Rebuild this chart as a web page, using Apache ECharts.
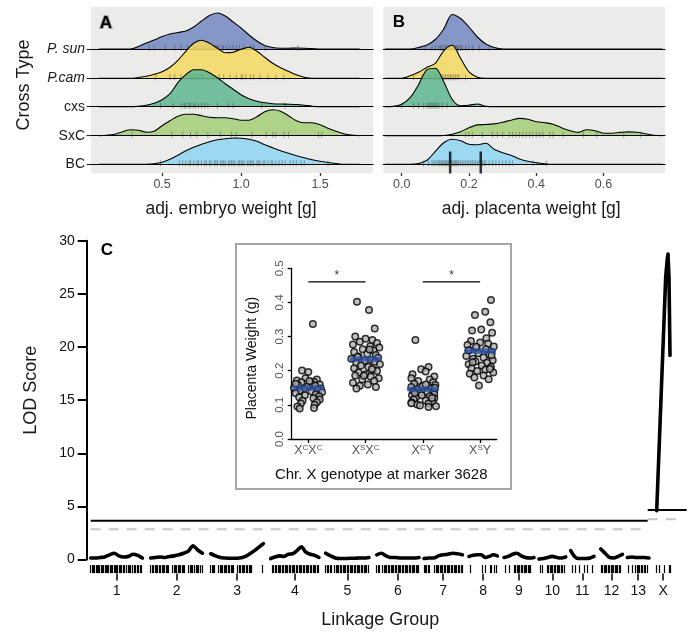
<!DOCTYPE html>
<html><head><meta charset="utf-8">
<script src="https://cdn.jsdelivr.net/npm/echarts@6/dist/echarts.min.js"></script>
<style>html,body{margin:0;padding:0;background:#fff}#c{width:689px;height:633px}</style>
</head><body><div id="c"></div>
<script>
// ---------------- DATA ----------------
const crossTypes = ['P. sun', 'P.cam', 'cxs', 'SxC', 'BC'];

// Panel A: embryo weight densities (ridge heights), sampled on embryoX
const embryoX = [0.10,0.15,0.20,0.25,0.30,0.35,0.40,0.45,0.50,0.55,0.60,0.65,0.70,0.75,0.80,0.85,0.90,0.95,1.00,1.05,1.10,1.15,1.20,1.25,1.30,1.35,1.40,1.45,1.50,1.55,1.60,1.65,1.70,1.75];
const embryoPsun = [0,0,0,0,0,2.5,6,9,12.5,15,16.5,18,22,28,33.5,36,33,27,21,14,8,3.5,1.5,0.8,0.7,1,0.8,0.4,0,0,0,0,0,0];
const embryoPcam = [0,0,0,0,0,0.8,2,4,6.5,11,18,27,35,38,35,30,25.5,26,29,31,27,21,15,10.5,7,3.5,1,0,0,0,0,0,0,0];
const embryoCxs  = [0,0,0,0,0,0.5,1.5,3.5,7,13,24,32,37,37,34,29,23,17.5,12,8,5.5,4,3,2.7,2.5,2.2,1.5,0.5,0,0,0,0,0,0];
const embryoSxC  = [0,0.5,1.5,4,6,5.5,3.5,4.5,10,15,19.5,21.5,21.5,20,18.5,18,18,17,15.5,15.5,19,24,26,24.5,20,15,13,13,11,7.5,4.5,2,0.7,0];
const embryoBC   = [0,0,0,0,0,0,0,0.5,2,5,9,13.5,17,20,22.5,24.5,25.5,26.3,26,25,23,19.5,16.5,13.5,11,8.5,6.5,4.5,3,1.8,0.8,0,0,0];

const embryoRugPsun = [0.42,0.45,0.52,0.58,0.62,0.66,0.70,0.72,0.74,0.76,0.78,0.79,0.81,0.82,0.84,0.85,0.86,0.88,0.89,0.91,0.93,0.95,0.97,0.99,1.02,1.06,1.08,1.15,1.36];
const embryoRugPcam = [0.46,0.55,0.58,0.62,0.66,0.68,0.69,0.70,0.71,0.72,0.73,0.74,0.75,0.76,0.77,0.79,0.82,0.86,0.89,0.93,0.97,1.0,1.01,1.03,1.06,1.08,1.12,1.17,1.22,1.27];
const embryoRugCxs  = [0.49,0.57,0.62,0.64,0.65,0.67,0.68,0.70,0.71,0.73,0.75,0.77,0.79,0.85,0.92,0.95,1.13,1.28];
const embryoRugSxC  = [0.31,0.56,0.63,0.68,0.72,0.79,0.87,0.94,0.97,1.07,1.16,1.20,1.22,1.27,1.30,1.49,1.51];
const embryoRugBC   = [0.49,0.61,0.63,0.65,0.67,0.68,0.70,0.72,0.73,0.75,0.77,0.78,0.80,0.81,0.83,0.84,0.85,0.87,0.88,0.89,0.90,0.92,0.93,0.94,0.95,0.96,0.98,0.99,1.00,1.01,1.02,1.04,1.05,1.06,1.07,1.08,1.10,1.11,1.12,1.14,1.15,1.17,1.19,1.20,1.22,1.24,1.26,1.28,1.31,1.33,1.35,1.38,1.40,1.55];
const embryoTicks = [0.5, 1.0, 1.5];

// Panel B: placenta weight densities
const placentaX = [-0.05,-0.025,0,0.025,0.05,0.075,0.1,0.125,0.15,0.175,0.2,0.225,0.25,0.275,0.3,0.325,0.35,0.375,0.4,0.425,0.45,0.475,0.5,0.525,0.55,0.575,0.6,0.625,0.65,0.675,0.7,0.725,0.75,0.775];
const placentaPsun = [0,0,0,0,1.5,4,9.5,20,34.5,30.5,22,12,5,1.5,0,0,0,0,0,0,0,0,0,0,0,0,0,0,0,0,0,0,0,0];
const placentaPcam = [0,0,0,2.5,6,11,15,27.5,33,20,6.5,1,0,0,0,0,0,0,0,0,0,0,0,0,0,0,0,0,0,0,0,0,0,0];
const placentaCxs  = [0,0.3,2.5,9,22,37,38.5,25,7.5,1,1.5,2.7,0.5,0,0,0,0,0,0,0,0,0,0,0,0,0,0,0,0,0,0,0,0,0];
const placentaSxC  = [0,0,0,0,0,0,0,0.2,1.5,4,8,10.8,11.2,11.8,13.5,15.5,17.3,16.5,14,13,11.5,8,5,3.3,6,5,2.5,2.5,3.3,3.8,3.5,2,0.5,0];
const placentaBC   = [0,0,0,0,0.8,4,13,21.5,25,23.5,20,19.5,21,15,11.5,9,5.3,3,1.7,0.5,0,0,0,0,0,0,0,0,0,0,0,0,0,0];

const placentaRugPsun = [0.07,0.09,0.10,0.11,0.115,0.12,0.125,0.13,0.135,0.14,0.145,0.15,0.152,0.155,0.16,0.163,0.167,0.17,0.175,0.18,0.19,0.20,0.21,0.23,0.26];
const placentaRugPcam = [0.035,0.06,0.07,0.08,0.09,0.10,0.105,0.11,0.115,0.12,0.125,0.13,0.135,0.14,0.145,0.15,0.155,0.16,0.165,0.17,0.19];
const placentaRugCxs  = [0.0,0.035,0.05,0.065,0.075,0.08,0.085,0.09,0.095,0.10,0.105,0.11,0.12,0.135];
const placentaRugSxC  = [0.19,0.20,0.21,0.24,0.27,0.285,0.30,0.32,0.33,0.34,0.35,0.36,0.37,0.38,0.39,0.40,0.41,0.42,0.44,0.45,0.48,0.54,0.58,0.66,0.71];
const placentaRugBC   = [0.065,0.08,0.09,0.095,0.10,0.105,0.11,0.113,0.117,0.12,0.123,0.127,0.13,0.133,0.137,0.14,0.143,0.147,0.15,0.153,0.157,0.16,0.163,0.167,0.17,0.175,0.18,0.185,0.19,0.195,0.20,0.205,0.21,0.215,0.22,0.225,0.23,0.235,0.24,0.245,0.25,0.26,0.27,0.28,0.29,0.30,0.31,0.32,0.33,0.39,0.43];
const placentaBCGenotypeMeans = [0.144, 0.235];
const placentaTicks = [0.0, 0.2, 0.4, 0.6];

// Panel C: LOD profiles per linkage group
const lgNames = ['1','2','3','4','5','6','7','8','9','10','11','12','13','X'];
const lgStart = [4,64,124,184,239,290,337.3,382.3,417.3,452.3,484,514,540.7,569];
const lgEnd   = [55.7,115.7,176.7,232.3,282.3,332.3,375.7,410.7,447.3,479,507.3,535.7,562.3,584];
const lodLG1  = [0.15,0.15,0.2,0.25,0.45,0.6,0.35,0.25,0.3,0.5,0.4,0.15];
const lodLG2  = [0.15,0.2,0.25,0.2,0.3,0.35,0.45,0.6,0.8,1.3,0.9,0.6];
const lodLG3  = [0.55,0.35,0.2,0.15,0.12,0.12,0.15,0.25,0.5,0.8,1.15,1.5];
const lodLG4  = [0.1,0.25,0.35,0.3,0.5,0.55,0.85,1.2,0.7,0.5,0.4,0.2];
const lodLG5  = [0.6,0.35,0.15,0.1,0.1,0.12,0.12,0.15,0.15,0.2];
const lodLG6  = [0.45,0.6,0.35,0.2,0.2,0.15,0.15,0.15,0.15,0.2];
const lodLG7  = [0.1,0.15,0.15,0.35,0.45,0.5,0.6,0.55,0.45];
const lodLG8  = [0.3,0.4,0.45,0.45,0.2,0.3,0.45,0.35];
const lodLG9  = [0.2,0.3,0.5,0.6,0.35,0.2,0.15,0.2];
const lodLG10 = [0.05,0.1,0.2,0.3,0.2,0.15,0.25];
const lodLG11 = [0.85,0.3,0.1,0.1,0.1,0.15,0.3];
const lodLG12 = [1.0,0.6,0.2,0.15,0.3,0.5];
const lodLG13 = [0.2,0.25,0.2,0.2,0.2,0.15];
const posX = [570,574,577,579,580.5,581.3,582.3,583.3];
const lodX = [4.6,14.4,21.7,26.6,28.2,28.75,26.5,19.2];
const autosomeLods = [lodLG1,lodLG2,lodLG3,lodLG4,lodLG5,lodLG6,lodLG7,lodLG8,lodLG9,lodLG10,lodLG11,lodLG12,lodLG13];
const markerPos = [
 4,5.5,7,8,9.5,11,12,13,14.5,16,17,18.5,20,21,22,24,25,26,27.5,29,30,31,32.5,34,35,36.5,38,40,41.5,43,44,46,47.5,49,50.5,52,53.5,55,
 64,65.5,67,68.5,70,71,72.5,74,75.5,77,78,79.5,81,82,86,87.5,89,90,91.5,93,94,95.5,97,98,102,103.5,105,106,108,109.5,111,112,114,115.5,
 124,125.5,127,128,132,133.5,135,136,137.5,139,140,141.5,143,144.5,146,147,151,152.5,154,155.5,157,158,159.5,161,162.5,164,165,175.7,
 185.7,187,188.5,190,191.5,193,194,195.5,197,198.5,200,201,202.5,204,205.5,207,208,209.5,211,212.5,214,215,216.5,218,219.5,221,222,223.5,225,226.5,228,229,230.5,232,
 239,240.5,242,243.5,245,248,249.5,251,252,253.5,255,256.5,258,259,260.5,262,263.5,265,266,267.5,269,270.5,272,273,274.5,276,277.5,279,280,281.5,
 290,291.5,293,296,297.5,299,300,301.5,303,304.5,306,307,308.5,310,311.5,313,314,315.5,317,318.5,320,321,322.5,324,325.5,327,328,329.5,331,332,
 337.3,338.5,340,341.5,343,348,349.5,351,352,353.5,355,356,357.5,359,360.5,362,363,364.5,366,367.5,369,370,371.5,373,374.5,375.7,
 384,395.7,399,404,405,407.3,410,
 419,422.3,427.3,429,430.5,432,433,434.5,436,437.5,439,440,441.5,443,444,
 453.3,455.7,460.7,462,463.5,465,466,467.5,469,470.5,472,473,474.5,476,477.3,
 485.7,489,492.3,497.3,500.7,505.7,
 514.7,516,517.5,519,520,521.5,523,524.5,526,527,528.5,530,531,532.5,534,
 541.3,545.7,549,550.5,552,553,554.5,556,557.5,559,560.7,
 569.7,572.3,577.3,582.3,584];
const thresholdAuto = 3.66, permAuto = 2.85, thresholdX = 4.67, permX = 3.79;
const autoSpan = [4, 561], xSpanSolid = [561, 600], xSpanDash = [561, 594];
const lodTicks = [0, 5, 10, 15, 20, 25, 30];

// Inset: placenta weight by X genotype
const genotypeLabels = ['X{s|C}X{s|C}', 'X{s|S}X{s|C}', 'X{s|C}Y', 'X{s|S}Y'];
const g1Weight = [0.337,0.201,0.196,0.178,0.174,0.171,0.168,0.166,0.163,0.160,0.158,0.156,0.153,0.150,0.148,0.146,0.144,0.141,0.139,0.137,0.134,0.131,0.128,0.125,0.122,0.119,0.116,0.112,0.108,0.104,0.100,0.095,0.091,0.089,0.162,0.170];
const g1Jitter = [0.08,-0.11,0.0,-0.05,0.15,-0.2,0.1,-0.12,0.05,0.2,-0.18,0.12,-0.02,-0.25,0.22,-0.08,0.17,-0.15,0.06,0.24,-0.22,0.13,-0.06,0.19,-0.16,0.09,0.2,-0.1,0.15,-0.13,0.11,-0.19,0.1,-0.15,-0.22,0.02];
const g2Weight = [0.402,0.378,0.324,0.300,0.294,0.290,0.285,0.281,0.277,0.272,0.268,0.263,0.259,0.255,0.250,0.246,0.242,0.238,0.235,0.232,0.229,0.226,0.222,0.219,0.215,0.211,0.207,0.203,0.199,0.195,0.190,0.186,0.182,0.178,0.174,0.170,0.165,0.160,0.156,0.152,0.148,0.262,0.240,0.205,0.185];
const g2Jitter = [-0.15,0.06,0.16,-0.18,0.0,0.12,-0.1,0.2,-0.22,0.08,0.24,-0.05,0.14,-0.2,0.03,0.18,-0.12,0.22,-0.25,0.1,-0.02,0.16,-0.16,0.25,-0.08,0.05,-0.2,0.13,0.2,-0.12,0.0,-0.18,0.09,0.23,-0.06,0.15,-0.22,0.04,-0.1,0.18,-0.16,0.07,-0.14,0.11,-0.03];
const g3Weight = [0.290,0.211,0.204,0.198,0.190,0.183,0.178,0.174,0.170,0.166,0.162,0.158,0.155,0.152,0.149,0.146,0.143,0.140,0.137,0.134,0.131,0.128,0.125,0.122,0.119,0.116,0.113,0.110,0.107,0.104,0.101,0.098,0.096,0.094,0.160,0.135,0.120,0.105,0.150,0.128];
const g3Jitter = [-0.13,0.1,-0.03,0.05,-0.18,0.2,-0.2,0.12,-0.08,0.18,-0.15,0.22,0.0,-0.2,0.15,-0.1,0.2,-0.17,0.08,-0.05,0.2,-0.19,0.12,-0.12,0.2,-0.16,0.05,0.17,-0.2,0.1,-0.1,-0.05,0.23,0.1,0.05,-0.14,0.16,-0.2,0.21,-0.02];
const g4Weight = [0.407,0.373,0.363,0.342,0.321,0.318,0.311,0.295,0.287,0.283,0.279,0.275,0.271,0.267,0.263,0.259,0.255,0.251,0.247,0.243,0.239,0.235,0.231,0.227,0.223,0.219,0.215,0.211,0.207,0.203,0.199,0.195,0.191,0.186,0.180,0.175,0.157,0.260,0.245,0.225,0.205,0.270];
const g4Jitter = [0.19,0.09,-0.09,0.18,0.02,-0.14,0.21,0.11,-0.16,0.0,0.14,-0.22,0.24,-0.06,0.1,-0.19,0.2,-0.03,0.16,-0.24,0.06,-0.12,0.22,-0.08,0.12,-0.2,0.03,0.19,-0.15,0.09,-0.05,0.23,-0.18,0.06,-0.1,0.15,-0.02,-0.2,0.2,-0.13,0.17,-0.07];
const genotypeMeans = [0.1496, 0.234, 0.146, 0.258];
const sigPairs = [[0, 1], [2, 3]];
const sigLevel = 0.46;

// ---------------- STYLE / LAYOUT ----------------
const FONT = '"Liberation Sans", Arial, Helvetica, sans-serif';
const ridgeColors = ['#7388c0', '#f3d95e', '#5db68f', '#a3cf77', '#8fd5f2'];
const ridgeBase = [49, 78.3, 106.7, 135.7, 164.3];
const panelA = {left: 91, width: 282, min: 0.05, max: 1.835};
const panelB = {left: 383.3, width: 281.7, min: -0.0547, max: 0.7827};
const insetBox = {x: 236, y: 244, w: 275, h: 245};

const embryoDens = [embryoPsun, embryoPcam, embryoCxs, embryoSxC, embryoBC];
const embryoRugs = [embryoRugPsun, embryoRugPcam, embryoRugCxs, embryoRugSxC, embryoRugBC];
const placentaDens = [placentaPsun, placentaPcam, placentaCxs, placentaSxC, placentaBC];
const placentaRugs = [placentaRugPsun, placentaRugPcam, placentaRugCxs, placentaRugSxC, placentaRugBC];

const grids = [], xAxes = [], yAxes = [], series = [];
const noAxis = {axisLine:{show:false}, axisTick:{show:false}, axisLabel:{show:false}, splitLine:{show:false}};

// Panel backgrounds + bottom axes
function panelBg(p, ticks, title, titlePad) {
  const gi = grids.length;
  grids.push({left: p.left, top: 7, width: p.width, height: 166, show: true, backgroundColor: '#ebebea', borderWidth: 0, outerBoundsMode: 'none'});
  xAxes.push({gridIndex: gi, type: 'value', min: p.min, max: p.max,
    axisLine: {show: false, onZero: false}, splitLine: {show: false},
    axisTick: {show: true, customValues: ticks, length: 3, lineStyle: {color: '#333', width: 1.3}},
    axisLabel: {show: true, customValues: ticks, formatter: v => Number(v).toFixed(1), color: '#4d4d4d', fontSize: 12.5, margin: 5, fontFamily: FONT},
    name: title, nameLocation: 'middle', nameGap: 27,
    nameTextStyle: {fontSize: 17.5, color: '#1a1a1a', fontFamily: FONT, padding: titlePad}});
  yAxes.push(Object.assign({gridIndex: gi, type: 'value', min: 0, max: 1}, noAxis));
}
panelBg(panelA, embryoTicks, 'adj. embryo weight [g]', [0, 2, 0, 0]);
panelBg(panelB, placentaTicks, 'adj. placenta weight [g]', [0, 0, 0, 14]);

function ridges(p, xs, dens, rugs, showLabels) {
  for (let i = 0; i < 5; i++) {
    const gi = grids.length;
    grids.push({left: p.left, width: p.width, top: ridgeBase[i] - 45, height: 54, outerBoundsMode: 'none'});
    xAxes.push({gridIndex: gi, type: 'value', min: p.min, max: p.max, z: 11 + 2 * i,
      axisLine: {show: true, onZero: true, lineStyle: {color: '#000', width: 1.1}},
      axisTick: {show: false}, axisLabel: {show: false}, splitLine: {show: false}});
    const y = {gridIndex: gi, type: 'value', min: -9, max: 45, axisLine: {show: false}, splitLine: {show: false}};
    if (showLabels) {
      y.axisTick = {show: true, customValues: [0], length: 4.5, lineStyle: {color: '#333', width: 1.2}};
      y.axisLabel = {show: true, customValues: [0], formatter: () => crossTypes[i], margin: 6,
        fontSize: 14, color: '#1a1a1a', fontStyle: i < 2 ? 'italic' : 'normal', fontFamily: FONT};
    } else {
      y.axisTick = {show: false}; y.axisLabel = {show: false};
    }
    yAxes.push(y);
    series.push({type: 'line', xAxisIndex: gi, yAxisIndex: gi, z: 10 + 2 * i, silent: true,
      data: xs.map((x, k) => [x, dens[i][k]]), smooth: 0.3, symbol: 'none',
      lineStyle: {color: '#000', width: 1.1}, areaStyle: {color: ridgeColors[i], opacity: 0.85}});
    series.push({type: 'scatter', xAxisIndex: gi, yAxisIndex: gi, z: 11 + 2 * i, silent: true,
      data: rugs[i].map(v => [v, 1]), symbol: 'rect', symbolSize: [1, 6],
      itemStyle: {color: 'rgba(30,30,30,0.45)'}});
  }
}
ridges(panelA, embryoX, embryoDens, embryoRugs, true);
ridges(panelB, placentaX, placentaDens, placentaRugs, false);
// BC genotype mean marks in panel B (last B ridge grid = 11)
series.push({type: 'scatter', xAxisIndex: 11, yAxisIndex: 11, z: 40, silent: true,
  data: placentaBCGenotypeMeans.map(v => [v, 1.8]), symbol: 'rect', symbolSize: [2.5, 22],
  itemStyle: {color: '#000'}});

// Panel C
const lgMid = lgStart.map((s, k) => (s + lgEnd[k]) / 2);
const gC = grids.length;
grids.push({left: 86.7, top: 240.7, width: 600, height: 318.9, outerBoundsMode: 'none'});
xAxes.push({gridIndex: gC, type: 'value', min: 0, max: 600, position: 'bottom', offset: 5.5,
  axisLine: {show: false, onZero: false}, splitLine: {show: false}, axisLabel: {show: false},
  axisTick: {show: true, customValues: markerPos, length: 8, lineStyle: {color: '#000', width: 1.2}}});
const xCIdx = xAxes.length;
xAxes.push({gridIndex: gC, type: 'value', min: 0, max: 600, position: 'bottom', offset: 14,
  axisLine: {show: false, onZero: false}, splitLine: {show: false},
  axisTick: {show: true, customValues: lgMid, length: 7, lineStyle: {color: '#000', width: 1.5}},
  axisLabel: {show: true, customValues: lgMid, margin: 11, fontSize: 14, color: '#111', fontFamily: FONT,
    formatter: v => { let b = 0; lgMid.forEach((m, k) => { if (Math.abs(m - v) < Math.abs(lgMid[b] - v)) b = k; }); return lgNames[b]; }},
  name: 'Linkage Group', nameLocation: 'middle', nameGap: 37,
  nameTextStyle: {fontSize: 18, color: '#1a1a1a', fontFamily: FONT, padding: [0, 13, 0, 0]}});
yAxes.push({gridIndex: gC, type: 'value', min: 0, max: 30, interval: 5,
  axisLine: {show: true, onZero: false, lineStyle: {color: '#000', width: 2}},
  axisTick: {show: true, length: 9, lineStyle: {color: '#000', width: 2}},
  axisLabel: {show: true, customValues: lodTicks, fontSize: 14, color: '#111', margin: 12, fontFamily: FONT},
  splitLine: {show: false},
  name: 'LOD Score', nameLocation: 'middle', nameGap: 47,
  nameTextStyle: {fontSize: 18, color: '#1a1a1a', fontFamily: FONT, padding: [0, 0, 0, 20]}});

const lineC = (data, style, z) => ({type: 'line', xAxisIndex: xCIdx, yAxisIndex: gC, data, symbol: 'none', silent: true, z: z || 5, lineStyle: style});
series.push(lineC([[autoSpan[0], permAuto], [autoSpan[1], permAuto]], {color: '#c6c6c6', width: 2, type: [10, 8]}));
series.push(lineC([[xSpanDash[0], permX], [xSpanDash[1], permX]], {color: '#c6c6c6', width: 2, type: [10, 8]}));
series.push(lineC([[autoSpan[0], thresholdAuto], [autoSpan[1], thresholdAuto]], {color: '#000', width: 2}));
series.push(lineC([[xSpanSolid[0], thresholdX], [xSpanSolid[1], thresholdX]], {color: '#000', width: 2}));
autosomeLods.forEach((arr, k) => {
  const s = lgStart[k], e = lgEnd[k];
  const d = arr.map((v, j) => [s + j * (e - s) / (arr.length - 1), v]);
  const sr = lineC(d, {color: '#000', width: 3.6, cap: 'round', join: 'round'}, 6);
  sr.smooth = 0.3;
  series.push(sr);
});
series.push(lineC(posX.map((p, j) => [p, lodX[j]]), {color: '#000', width: 3.6, cap: 'round', join: 'round'}, 6));

// Inset
const gI = grids.length;
grids.push({left: 291.7, top: 268.3, width: 205, height: 170.7, outerBoundsMode: 'none'});
const xIIdx = xAxes.length;
xAxes.push({gridIndex: gI, type: 'value', min: -0.29, max: 3.29, z: 5,
  axisLine: {show: true, onZero: false, lineStyle: {color: '#000', width: 1.3}}, splitLine: {show: false},
  axisTick: {show: true, customValues: [0, 1, 2, 3], length: 4, lineStyle: {color: '#000', width: 1.3}},
  axisLabel: {show: true, customValues: [0, 1, 2, 3], margin: 5, fontSize: 12.5, color: '#555', fontFamily: FONT,
    formatter: v => genotypeLabels[Math.round(v)], rich: {s: {fontSize: 8, color: '#555', verticalAlign: 'top', fontFamily: FONT}}},
  name: 'Chr. X genotype at marker 3628', nameLocation: 'middle', nameGap: 28,
  nameTextStyle: {fontSize: 15, color: '#111', fontFamily: FONT, padding: [0, 26, 0, 0]}});
yAxes.push({gridIndex: gI, type: 'value', min: 0, max: 0.5, interval: 0.1, z: 5,
  axisLine: {show: true, onZero: false, lineStyle: {color: '#000', width: 1.3}}, splitLine: {show: false},
  axisTick: {show: true, length: 4, lineStyle: {color: '#000', width: 1.3}},
  axisLabel: {show: true, rotate: 90, margin: 6, fontSize: 11.5, color: '#555', fontFamily: FONT, formatter: v => Number(v).toFixed(1)},
  name: 'Placenta Weight (g)', nameLocation: 'middle', nameGap: 33,
  nameTextStyle: {fontSize: 14, color: '#111', fontFamily: FONT, padding: [0, 9, 0, 0]}});
const groups = [[g1Weight, g1Jitter], [g2Weight, g2Jitter], [g3Weight, g3Jitter], [g4Weight, g4Jitter]];
const pts = [];
groups.forEach((g, c) => g[0].forEach((w, j) => pts.push([c + g[1][j], w])));
series.push({type: 'scatter', xAxisIndex: xIIdx, yAxisIndex: gI, z: 20, silent: true, data: pts,
  symbol: 'circle', symbolSize: 6.5, itemStyle: {color: '#b0b0b0', borderColor: '#000', borderWidth: 1.5}});
series.push({type: 'scatter', xAxisIndex: xIIdx, yAxisIndex: gI, z: 22, silent: true,
  data: genotypeMeans.map((m, c) => [c, m]), symbol: 'roundRect', symbolSize: [32, 5.5],
  itemStyle: {color: '#2b51a1'}});
sigPairs.forEach(p => series.push({type: 'line', xAxisIndex: xIIdx, yAxisIndex: gI, z: 20, silent: true,
  data: [[p[0], sigLevel], [p[1], sigLevel]], symbol: 'none', lineStyle: {color: '#000', width: 1.3}}));
series.push({type: 'scatter', xAxisIndex: xIIdx, yAxisIndex: gI, z: 20, silent: true,
  data: sigPairs.map(p => [(p[0] + p[1]) / 2, sigLevel]), symbolSize: 1, itemStyle: {color: 'rgba(0,0,0,0)'},
  label: {show: true, position: 'top', distance: 0, formatter: '*', fontSize: 12, color: '#000', fontFamily: FONT}});

const chart = echarts.init(document.getElementById('c'), null, {renderer: 'canvas', width: 689, height: 633});
chart.setOption({
  animation: false,
  backgroundColor: '#ffffff',
  textStyle: {fontFamily: FONT},
  grid: grids, xAxis: xAxes, yAxis: yAxes, series: series,
  graphic: [
    {type: 'rect', z: 1, shape: {x: insetBox.x, y: insetBox.y, width: insetBox.w, height: insetBox.h},
      style: {fill: '#fff', stroke: '#a6a6a6', lineWidth: 2.5}},
    {type: 'text', x: 106, y: 23, style: {text: 'A', font: 'bold 17px ' + FONT, fill: '#000', align: 'center', verticalAlign: 'middle'}},
    {type: 'text', x: 399, y: 22, style: {text: 'B', font: 'bold 17px ' + FONT, fill: '#000', align: 'center', verticalAlign: 'middle'}},
    {type: 'text', x: 107, y: 250, style: {text: 'C', font: 'bold 17px ' + FONT, fill: '#000', align: 'center', verticalAlign: 'middle'}},
    {type: 'text', x: 24, y: 85, rotation: Math.PI / 2, style: {text: 'Cross Type', font: '18px ' + FONT, fill: '#1a1a1a', align: 'center', verticalAlign: 'middle'}}
  ]
});
// connectors from inset to the X peak
let pk = 0; lodX.forEach((v, j) => { if (v > lodX[pk]) pk = j; });
const peakPx = chart.convertToPixel({xAxisIndex: xCIdx, yAxisIndex: gC}, [posX[pk], lodX[pk]]);
const rx = insetBox.x + insetBox.w;
chart.setOption({graphic: [
  {type: 'line', z: 1, shape: {x1: rx, y1: insetBox.y, x2: peakPx[0], y2: peakPx[1]}, style: {stroke: '#a6a6a6', lineWidth: 2}},
  {type: 'line', z: 1, shape: {x1: rx, y1: insetBox.y + 223, x2: peakPx[0], y2: peakPx[1]}, style: {stroke: '#a6a6a6', lineWidth: 2}}
]});
</script>
</body></html>
